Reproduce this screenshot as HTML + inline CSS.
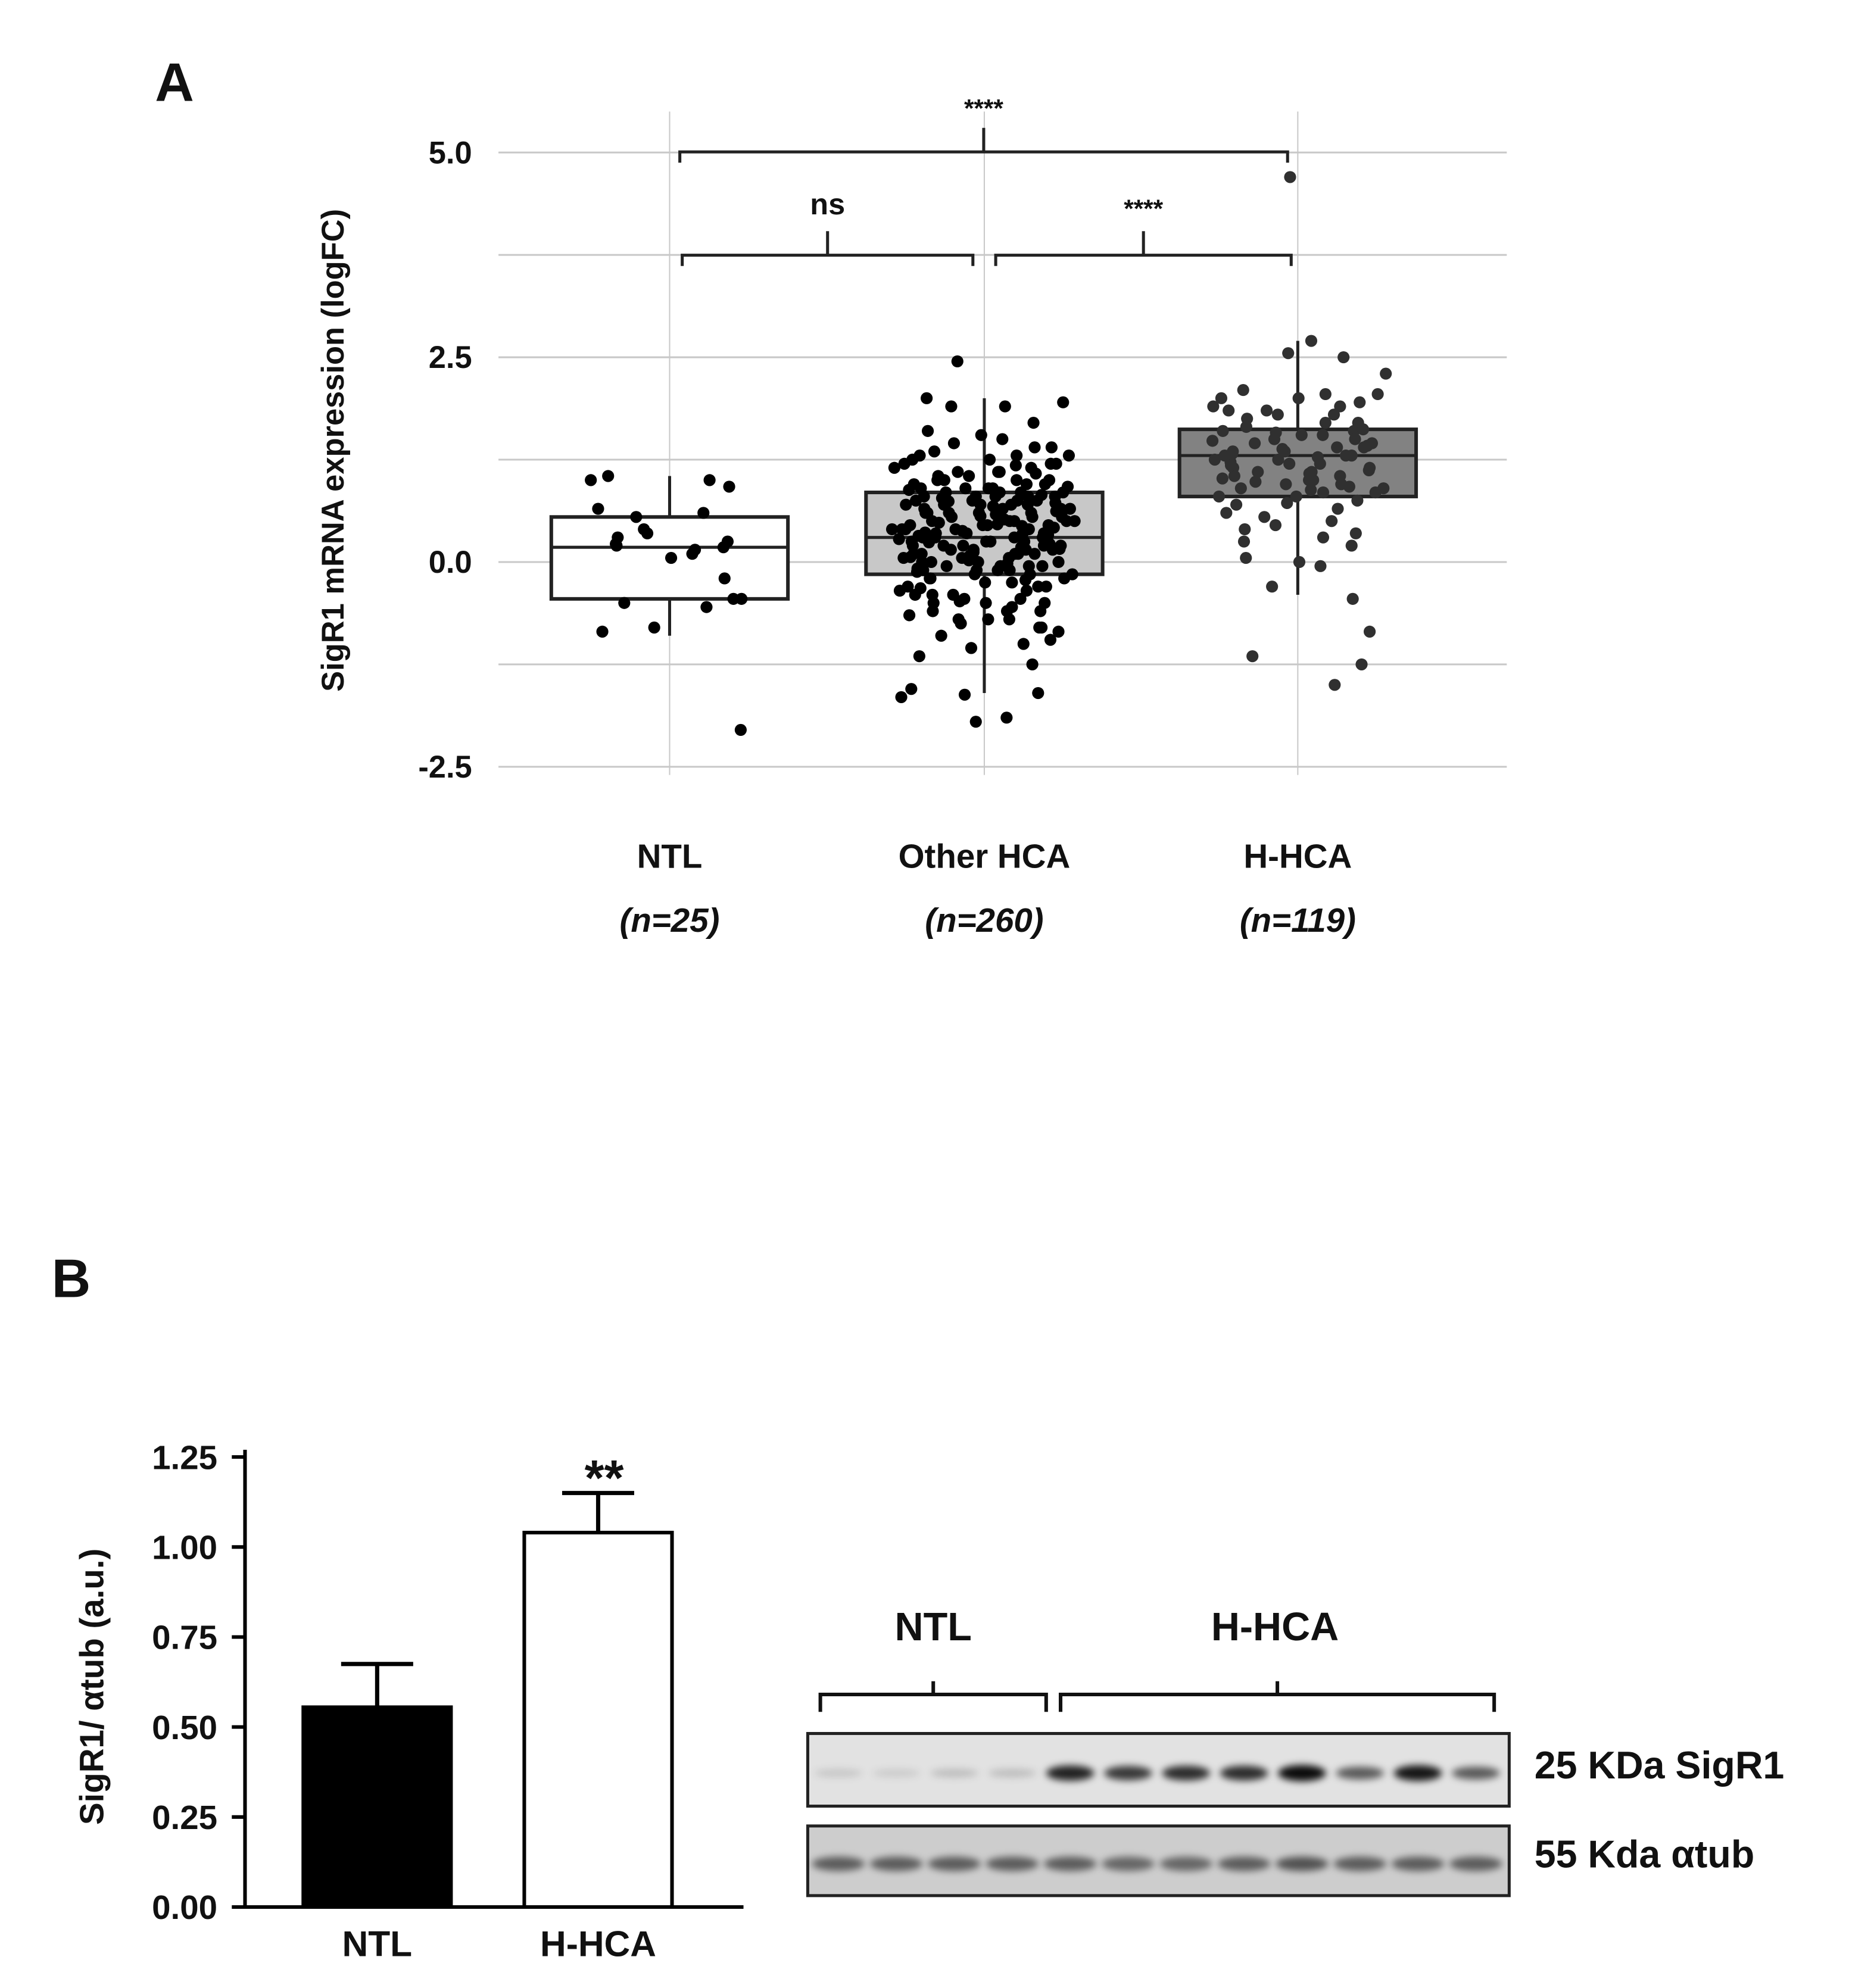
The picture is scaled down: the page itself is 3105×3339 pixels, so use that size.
<!DOCTYPE html>
<html><head><meta charset="utf-8"><style>
html,body{margin:0;padding:0;background:#fff}
svg{display:block}
text{font-family:"Liberation Sans Narrow","Liberation Sans",sans-serif;font-weight:bold;fill:#111}
.w{font-family:"Liberation Sans",sans-serif}
</style></head><body>
<svg id="fig" width="3105" height="3339" viewBox="0 0 3105 3339" xmlns="http://www.w3.org/2000/svg">
<g transform="scale(1.0085)">
<text x="258" y="168" font-size="90" class="w">A</text>
<text x="86" y="2160" font-size="90" class="w">B</text>
<g id="boxplot"></g>
<g id="barchart"></g>
<g id="blot"></g>
</g>
</svg>
<script>
const groups = ["NTL","Other HCA","H-HCA"];
const groupN = ["(n=25)","(n=260)","(n=119)"];
const yTicks = [5.0,2.5,0.0,-2.5];
const yTickLabels = ["5.0","2.5","0.0","-2.5"];
const q1 = [-0.45,-0.15,0.8];
const med = [0.18,0.3,1.3];
const q3 = [0.55,0.85,1.62];
const whiskLo = [-0.9,-1.6,-0.4];
const whiskHi = [1.05,2.0,2.7];
const ntlPts = [1.0,0.92,1.05,1.0,0.65,0.55,0.6,0.35,0.2,0.25,0.15,0.22,0.18,0.3,0.05,0.1,0.4,-0.2,-0.45,-0.5,-0.45,-0.55,-0.8,-0.85,-2.05];
const otherPts = [2.45,2.0,1.95,1.9,1.9,1.7,1.6,1.55,1.5,1.45,1.4,1.4,1.35,1.3,1.3,1.25,1.25,1.2,1.2,1.15,1.15,1.1,1.1,1.05,1.05,1.0,1.0,1.0,0.95,0.95,0.9,0.9,0.9,0.85,0.85,0.85,0.8,0.8,0.8,0.8,0.75,0.75,0.75,0.7,0.7,0.7,0.7,0.65,0.65,0.65,0.6,0.6,0.6,0.6,0.55,0.55,0.55,0.5,0.5,0.5,0.5,0.45,0.45,0.45,0.4,0.4,0.4,0.4,0.35,0.35,0.35,0.3,0.3,0.3,0.3,0.25,0.25,0.25,0.2,0.2,0.2,0.2,0.15,0.15,0.15,0.1,0.1,0.1,0.1,0.05,0.05,0.05,0.0,0.0,0.0,-0.05,-0.05,-0.05,-0.1,-0.1,-0.1,-0.15,-0.15,-0.15,-0.2,-0.2,-0.25,-0.25,-0.3,-0.3,-0.35,-0.35,-0.4,-0.4,-0.45,-0.45,-0.5,-0.5,-0.55,-0.6,-0.6,-0.65,-0.7,-0.7,-0.75,-0.8,-0.85,-0.9,-0.95,-1.0,-1.05,-1.15,-1.25,-1.55,-1.6,-1.65,-1.62,-1.9,-1.95,
1.3,1.2,1.1,1.0,0.95,0.9,0.85,0.8,0.75,0.7,0.65,0.6,0.55,0.5,0.45,0.4,0.35,0.3,0.25,0.2,0.15,0.1,0.05,0.0,-0.05,-0.1,-0.2,-0.3,-0.4,-0.5,-0.6,-0.7,-0.8,0.62,0.48,0.33,0.18,0.02,-0.12,0.72,0.88,1.08,0.28,0.38,0.52,0.12,-0.08,0.42,0.58,0.78,0.22,0.32,0.46,0.68,0.08,-0.22,0.92,0.36,0.16,-0.02,0.56,0.26,0.82,-0.32,0.44,0.06,0.74,1.18,-0.48,0.24];
const hhcaPts = [4.7,2.7,2.55,2.5,2.3,2.1,2.05,2.05,2.0,2.0,1.95,1.9,1.9,1.85,1.85,1.8,1.8,1.75,1.7,1.7,1.65,1.6,1.6,1.55,1.55,1.5,1.5,1.45,1.45,1.4,1.4,1.35,1.35,1.3,1.3,1.3,1.25,1.25,1.2,1.2,1.15,1.15,1.1,1.1,1.05,1.05,1.0,1.0,0.95,0.95,0.9,0.9,0.85,0.85,0.8,0.8,0.75,0.7,0.65,0.6,0.55,0.5,0.45,0.4,0.35,0.3,0.25,0.2,0.05,0.0,-0.05,-0.3,-0.45,-0.85,-1.15,-1.25,-1.5,1.38,1.22,1.12,1.02,0.92,1.48,1.58,1.28,0.72,1.18,1.42,1.08,0.98,1.62,1.32,0.88];
const jitter = [-0.35,0.12,0.38,-0.08,0.25,-0.42,0.02,0.31,-0.22,0.18,-0.3,0.41,-0.15,0.07,-0.38,0.28,-0.02,0.35,-0.26,0.14,-0.11,0.22,-0.33];
const barCats = ["NTL","H-HCA"];
const barVals = [0.555,1.04];
const barErr = [0.12,0.11];
const barTicks = [0,0.25,0.5,0.75,1.0,1.25];
const barTickLabels = ["0.00","0.25","0.50","0.75","1.00","1.25"];
const sigr1Intensity = [0.12,0.1,0.16,0.16,0.85,0.75,0.8,0.8,0.95,0.6,0.9,0.6];
const tubIntensity = [0.55,0.55,0.55,0.55,0.55,0.5,0.5,0.55,0.6,0.55,0.55,0.55];

const NS="http://www.w3.org/2000/svg";
function mk(p,t,a){const e=document.createElementNS(NS,t);for(const k in a)e.setAttribute(k,a[k]);p.appendChild(e);return e;}
// ---- Panel A ----
const A=document.getElementById('boxplot');
const yA=v=>936-v*136.4;
const xA=i=>[1115,1639,2161][i];
for(let k=-2;k<=4;k++){const v=k*1.25;
 const g=mk(A,'line',{x1:830,x2:2509,y1:yA(v),y2:yA(v),stroke:'#c8c8c8','stroke-width':3});
 
 }
groups.forEach((g,i)=>{const l=mk(A,'line',{x1:xA(i),x2:xA(i),y1:yA(5.5),y2:yA(-2.6),stroke:'#c8c8c8','stroke-width':2});
 
 });
yTicks.forEach((v,i)=>{const t=mk(A,'text',{x:786,y:yA(v)+18,'font-size':52,'text-anchor':'end'});t.textContent=yTickLabels[i];
 
 });
const yt=mk(A,'text',{x:0,y:0,'font-size':52,'text-anchor':'middle',class:'w',transform:'translate(572,750) rotate(-90)'});yt.textContent='SigR1 mRNA expression (logFC)';


const fills=['#ffffff','#c8c8c8','#828282'];
const ptsAll=[ntlPts,otherPts,hhcaPts];
const dotCol=['#000','#000','#303030'];
groups.forEach((g,i)=>{
 const cx=xA(i),hw=197;
 const wl=mk(A,'line',{x1:cx,x2:cx,y1:yA(whiskHi[i]),y2:yA(whiskLo[i]),stroke:'#222','stroke-width':5});
 
 
 const b=mk(A,'rect',{x:cx-hw,y:yA(q3[i]),width:2*hw,height:yA(q1[i])-yA(q3[i]),fill:fills[i],stroke:'#222','stroke-width':6});
 
 
 const m=mk(A,'line',{x1:cx-hw,x2:cx+hw,y1:yA(med[i]),y2:yA(med[i]),stroke:'#222','stroke-width':5});
 
 
 ptsAll[i].forEach((v,j)=>{const jj=jitter[(j*7+i*3)%jitter.length]+ (((j*5)%11)-5)*0.012;
  const c=mk(A,'circle',{cx:cx+jj*320,cy:yA(v),r:10,fill:dotCol[i]});
  
  });
 const t=mk(A,'text',{x:cx,y:1445,'font-size':56,'text-anchor':'middle'});t.textContent=g;
 
 
 const n=mk(A,'text',{x:cx,y:1552,'font-size':56,'text-anchor':'middle','font-style':'italic'});n.textContent=groupN[i];
 
 
});
function bracket(x1,x2,y,label,ly){
 const p=mk(A,'path',{d:`M${x1},${y+18} V${y} H${x2} V${y+18} M${(x1+x2)/2},${y} V${y-40}`,fill:'none',stroke:'#222','stroke-width':5});
 
 
 const t=mk(A,'text',{x:(x1+x2)/2,y:ly,'font-size':label==='ns'?50:42,'text-anchor':'middle',class:'w','font-weight':'normal'});t.textContent=label;
 
 
}
bracket(1132,2144,253,'****',195);
bracket(1136,1620,425,'ns',357);
bracket(1658,2150,425,'****',362);
// ---- Panel B bar chart ----
const B=document.getElementById('barchart');
const yB=v=>3176-v*599.6;
const bx=[628,996];
mk(B,'line',{x1:408,x2:408,y1:yB(1.27),y2:3179,stroke:'#000','stroke-width':6});
mk(B,'line',{x1:405,x2:1238,y1:3176,y2:3176,stroke:'#000','stroke-width':6});
barTicks.forEach((v,i)=>{const tk=mk(B,'line',{x1:386,x2:408,y1:yB(v),y2:yB(v),stroke:'#000','stroke-width':6});
 
 
 const t=mk(B,'text',{x:362,y:yB(v)+20,'font-size':56,'text-anchor':'end'});t.textContent=barTickLabels[i];
 
 });
const bt=mk(B,'text',{x:0,y:0,'font-size':56,'text-anchor':'middle',class:'w',transform:'translate(172,2809) rotate(-90)'});bt.textContent='SigR1/ αtub (a.u.)';


barCats.forEach((c,i)=>{
 const cx=bx[i];
 const e=mk(B,'path',{d:`M${cx},${yB(barVals[i])} V${yB(barVals[i]+barErr[i])} M${cx-60},${yB(barVals[i]+barErr[i])} H${cx+60}`,stroke:'#000','stroke-width':7,fill:'none'});
 
 
 const r=mk(B,'rect',{x:cx-123,y:yB(barVals[i]),width:246,height:3176-yB(barVals[i]),fill:i===0?'#000':'#fff',stroke:'#000','stroke-width':6});
 
 
 const t=mk(B,'text',{x:cx,y:3258,'font-size':60,'text-anchor':'middle'});t.textContent=c;
 
 
});
const st=mk(B,'text',{x:bx[1]+10,y:2490,'font-size':84,'text-anchor':'middle',class:'w'});st.textContent='**';


// ---- Western blot ----
const W=document.getElementById('blot');
const defs=mk(W,'defs',{});
const f=mk(defs,'filter',{id:'bl',x:'-20%',y:'-100%',width:'140%',height:'300%'});mk(f,'feGaussianBlur',{stdDeviation:6});
[['NTL',1554],['H-HCA',2123]].forEach(([s,x])=>{const t=mk(W,'text',{x:x,y:2732,'font-size':66,'text-anchor':'middle'});t.textContent=s;
 
 });
[[1366,1742],[1766,2488]].forEach(([a,b])=>{const p=mk(W,'path',{d:`M${a},2851 V2822 H${b} V2851 M${(a+b)/2},2822 V2800`,fill:'none',stroke:'#111','stroke-width':6});
 
 });
const b1=mk(W,'rect',{x:1345,y:2887,width:1168,height:121,fill:'#e2e2e2',stroke:'#222','stroke-width':5});


const b2=mk(W,'rect',{x:1345,y:3041,width:1168,height:116,fill:'#cdcdcd',stroke:'#222','stroke-width':5});


sigr1Intensity.forEach((v,i)=>{const cx=1396+i*96.5;
 const e=mk(W,'ellipse',{cx:cx,cy:2953,rx:40,ry:6+v*8,fill:'#000','fill-opacity':v,filter:'url(#bl)'});
 
 });
tubIntensity.forEach((v,i)=>{const cx=1396+i*96.5;
 const e=mk(W,'ellipse',{cx:cx,cy:3104,rx:44,ry:12,fill:'#000','fill-opacity':v,filter:'url(#bl)'});
 
 });
[['25 KDa SigR1',2962],['55 Kda αtub',3110]].forEach(([s,y])=>{const t=mk(W,'text',{x:2555,y:y,'font-size':64});t.textContent=s;
 
 });
</script>
</body></html>
